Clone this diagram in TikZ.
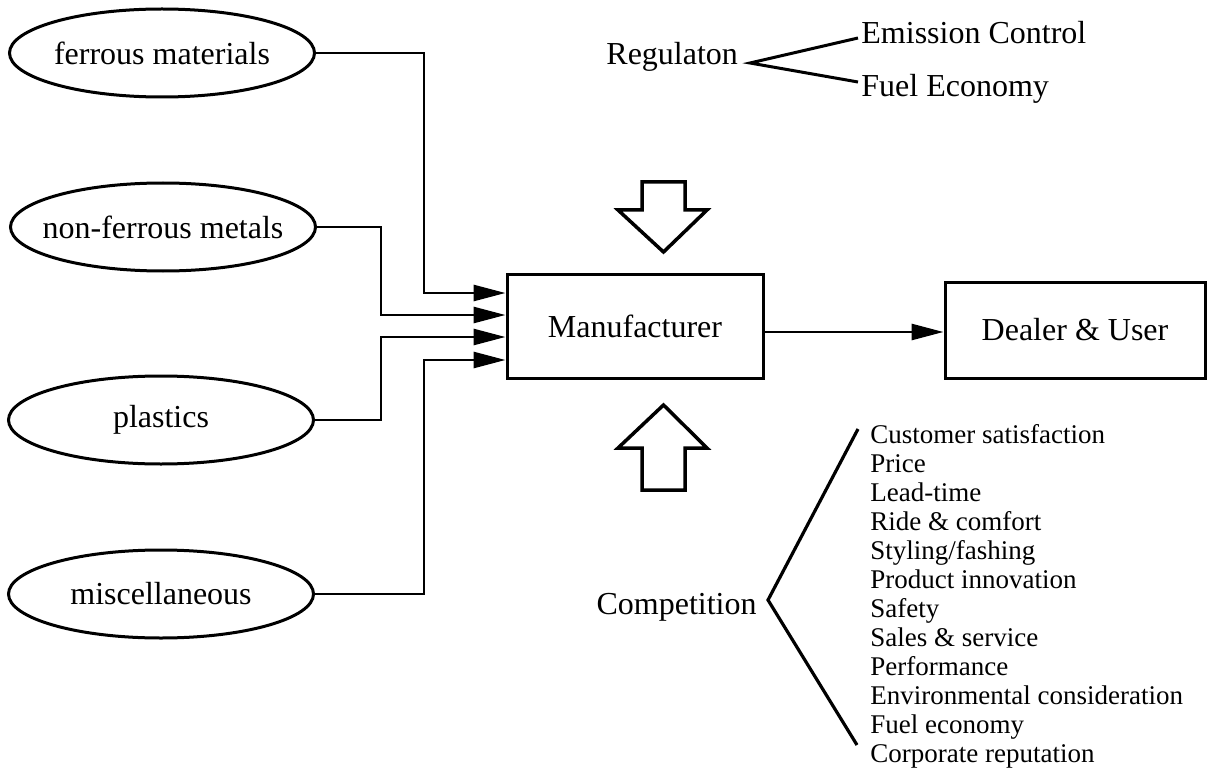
\documentclass[tikz,border=0pt]{standalone}
\usepackage{fontspec}
\setmainfont{Liberation Serif}
\usetikzlibrary{shapes.geometric,arrows.meta}
\begin{document}
\begin{tikzpicture}[x=1pt,y=-1pt,
  line width=2.8pt,
  src/.style={draw,ellipse,line width=3pt,minimum width=305pt,minimum height=88pt,inner xsep=-20pt,inner ysep=0pt,font=\fontsize{32}{36}\selectfont},
  box/.style={draw,rectangle,line width=3pt,inner sep=0pt,font=\fontsize{32}{36}\selectfont},
  lbl/.style={inner sep=0pt,anchor=base west,font=\fontsize{32}{36}\selectfont},
  item/.style={inner sep=0pt,anchor=base west,font=\fontsize{27}{30}\selectfont},
  tip/.style={-{Triangle[length=32pt,width=16pt]}},
  blk/.style={draw,line width=3.5pt,line join=miter,fill=white}
]
\useasboundingbox (0,0) rectangle (1207,770);

% source ellipses
\node[src] (fer) at (162,53) {ferrous materials};
\node[src] (nfe) at (163,227) {non-ferrous metals};
\node[src] (pla) at (161,420) {plastics};
\node[src] (mis) at (161,594) {miscellaneous};

% boxes
\node[box,minimum width=256pt,minimum height=104pt] (man) at (635,326) {Manufacturer};
\node[box,minimum width=260pt,minimum height=96pt] (dea) at (1075,330) {Dealer \& User};

% input connectors
\coordinate (i1) at (man.west |- 0,293);
\coordinate (i2) at (man.west |- 0,315);
\coordinate (i3) at (man.west |- 0,337);
\coordinate (i4) at (man.west |- 0,360);
\draw[tip] (fer.east) -| (424,293) -- (i1);
\draw[tip] (nfe.east) -| (381,315) -- (i2);
\draw[tip] (pla.east) -| (381,337) -- (i3);
\draw[tip] (mis.east) -| (424,360) -- (i4);

% output
\draw[tip] (man.east |- 0,332) -- (dea.west |- 0,332);

% block arrows
\draw[blk] (642,182) -- (685,182) -- (685,210) -- (707,210) -- (663.5,252) -- (618,210) -- (642,210) -- cycle;
\draw[blk] (642,490) -- (685,490) -- (685,448) -- (707,448) -- (663.5,405) -- (618,448) -- (642,448) -- cycle;

% regulation
\node[lbl] (reg) at (605,65) {Regulaton};
\coordinate (rv) at (750,63);
\node[lbl] (emi) at (860,44) {Emission Control};
\node[lbl] (fue) at (860,97) {Fuel Economy};
\coordinate (re1) at (858,38);
\coordinate (re2) at (858,82);
\draw[line width=3pt,line join=miter] (re1) -- (rv) -- (re2);

% competition
\node[lbl,anchor=base east] (com) at (758,614) {Competition};
\coordinate (cv) at (768,600);
\coordinate (ct) at (858,429);
\coordinate (cb) at (857,745);
\draw[line width=3.2pt,line join=miter] (ct) -- (cv) -- (cb);

\foreach \t [count=\i from 0] in {Customer satisfaction,Price,Lead-time,Ride \& comfort,Styling/fashing,Product innovation,Safety,Sales \& service,Performance,Environmental consideration,Fuel economy,Corporate reputation}
  \node[item] (c\i) at (869,{443+29*\i}) {\t};
\end{tikzpicture}
\end{document}
